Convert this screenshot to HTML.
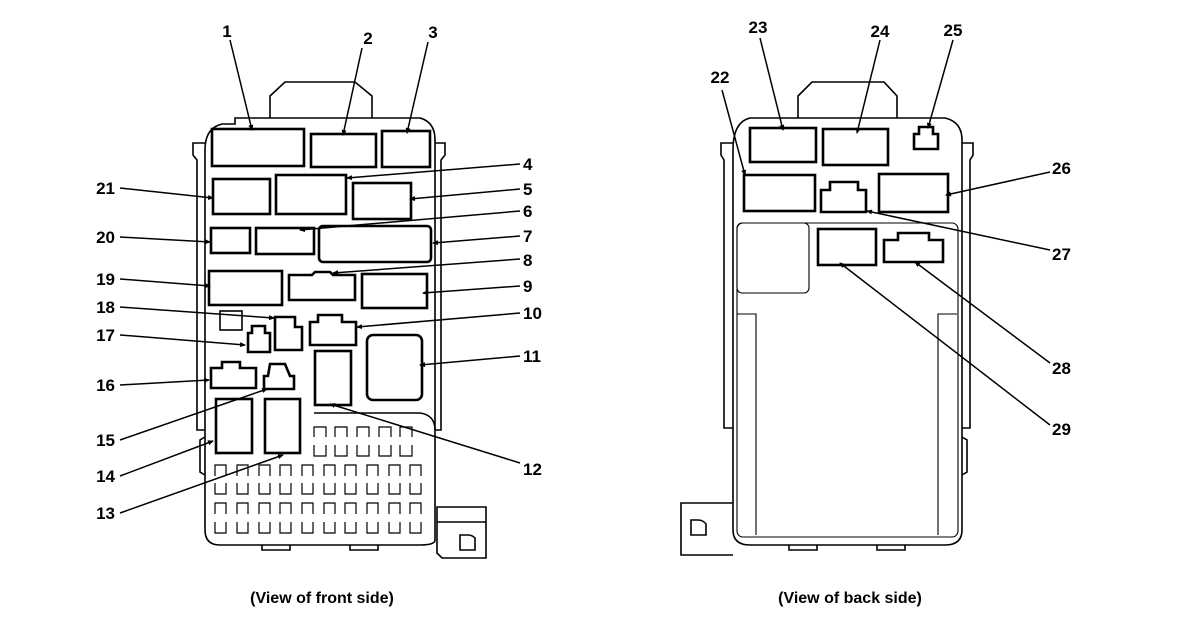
<!DOCTYPE html>
<html><head><meta charset="utf-8"><style>
html,body{margin:0;padding:0;background:#fff;}
svg{display:block;}
text{font-family:"Liberation Sans",Arial,sans-serif;font-weight:bold;font-size:17px;fill:#000;}
.cap{font-size:16px;}
</style></head><body>
<svg width="1184" height="630" viewBox="0 0 1184 630" xmlns="http://www.w3.org/2000/svg">
<defs><marker id="a" markerWidth="6" markerHeight="6" refX="5" refY="3" orient="auto" markerUnits="userSpaceOnUse"><path d="M0,0.5 L6,3 L0,5.5 Z" fill="#000"/></marker></defs>
<g fill="none" stroke="#000">
<!-- FRONT BOX -->
<g stroke-width="1.6">
<path d="M270,118 L270,96 L285,82 L355,82 L372,96 L372,118"/>
<path d="M205,150 Q205,128 222,124 L235,124 L235,118 L420,118 Q435,122 435,140 L435,540 Q435,545 420,545 L220,545 Q205,545 205,530 Z"/>
<path d="M205,143 L193,143 L193,155 L197,160 L197,430 L205,430"/>
<path d="M435,143 L445,143 L445,155 L441,160 L441,430 L435,430"/>
<path d="M205,437 L200,440 L200,472 L205,475"/>
<path d="M262,545 L262,550 L290,550 L290,545 M350,545 L350,550 L378,550 L378,545"/>
<path d="M437,507 L486,507 L486,558 L442,558 L437,553 Z M437,522 L486,522"/>
<path d="M460,535 L460,550 L475,550 L475,538 Q472,535 468,535 Z"/>
<path d="M314,413 L420,413 Q435,415 435,430"/>
<rect x="220" y="311" width="22" height="19"/>
</g>
<g stroke-width="1.2">
<path d="M314,437 L314,427 L326,427 L326,437 M335,437 L335,427 L347,427 L347,437 M357,437 L357,427 L369,427 L369,437 M379,437 L379,427 L391,427 L391,437 M400,437 L400,427 L412,427 L412,437"/>
<path d="M314,445 L314,456 L326,456 L326,445 M335,445 L335,456 L347,456 L347,445 M357,445 L357,456 L369,456 L369,445 M379,445 L379,456 L391,456 L391,445 M400,445 L400,456 L412,456 L412,445"/>
</g>
<g stroke-width="1.2">
<path d="M215,476 v-11 h11 v11 M237,476 v-11 h11 v11 M259,476 v-11 h11 v11 M280,476 v-11 h11 v11 M302,476 v-11 h11 v11 M324,476 v-11 h11 v11 M345,476 v-11 h11 v11 M367,476 v-11 h11 v11 M389,476 v-11 h11 v11 M410,476 v-11 h11 v11"/>
<path d="M215,483 v11 h11 v-11 M237,483 v11 h11 v-11 M259,483 v11 h11 v-11 M280,483 v11 h11 v-11 M302,483 v11 h11 v-11 M324,483 v11 h11 v-11 M345,483 v11 h11 v-11 M367,483 v11 h11 v-11 M389,483 v11 h11 v-11 M410,483 v11 h11 v-11"/>
<path d="M215,514 v-11 h11 v11 M237,514 v-11 h11 v11 M259,514 v-11 h11 v11 M280,514 v-11 h11 v11 M302,514 v-11 h11 v11 M324,514 v-11 h11 v11 M345,514 v-11 h11 v11 M367,514 v-11 h11 v11 M389,514 v-11 h11 v11 M410,514 v-11 h11 v11"/>
<path d="M215,522 v11 h11 v-11 M237,522 v11 h11 v-11 M259,522 v11 h11 v-11 M280,522 v11 h11 v-11 M302,522 v11 h11 v-11 M324,522 v11 h11 v-11 M345,522 v11 h11 v-11 M367,522 v11 h11 v-11 M389,522 v11 h11 v-11 M410,522 v11 h11 v-11"/>
</g>
<g stroke-width="2.6">
<rect x="212" y="129" width="92" height="37"/>
<rect x="311" y="134" width="65" height="33"/>
<rect x="382" y="131" width="48" height="36"/>
<rect x="213" y="179" width="57" height="35"/>
<rect x="276" y="175" width="70" height="39"/>
<rect x="353" y="183" width="58" height="36"/>
<rect x="211" y="228" width="39" height="25"/>
<rect x="256" y="228" width="58" height="26"/>
<rect x="319" y="226" width="112" height="36" rx="4"/>
<rect x="209" y="271" width="73" height="34"/>
<path d="M289,275 L312,275 L315,272 L330,272 L333,275 L355,275 L355,300 L289,300 Z"/>
<rect x="362" y="274" width="65" height="34"/>
<path d="M275,317 L295,317 L295,327 L302,327 L302,350 L275,350 Z"/>
<path d="M248,352 L248,333 L252,333 L252,326 L265,326 L265,333 L270,333 L270,352 Z"/>
<path d="M310,345 L310,322 L318,322 L318,315 L342,315 L342,322 L356,322 L356,345 Z"/>
<rect x="367" y="335" width="55" height="65" rx="6"/>
<rect x="315" y="351" width="36" height="54"/>
<path d="M211,388 L211,368 L222,368 L222,362 L240,362 L240,368 L256,368 L256,388 Z"/>
<path d="M264,389 L264,376 L268,376 L270,364 L285,364 L290,376 L294,376 L294,389 Z"/>
<rect x="216" y="399" width="36" height="54"/>
<rect x="265" y="399" width="35" height="54"/>
</g>
<g stroke-width="1.5" marker-end="url(#a)">
<path d="M230,40 L252,130"/>
<path d="M362,48 L343,135"/>
<path d="M428,42 L407,133"/>
<path d="M520,164 L347,178"/>
<path d="M520,189 L410,199"/>
<path d="M520,211 L300,230"/>
<path d="M520,236 L433,243"/>
<path d="M520,259 L333,273"/>
<path d="M520,286 L423,293"/>
<path d="M520,313 L357,327"/>
<path d="M520,356 L420,365"/>
<path d="M520,463 L330,404"/>
<path d="M120,188 L213,198"/>
<path d="M120,237 L210,242"/>
<path d="M120,279 L210,286"/>
<path d="M120,307 L274,318"/>
<path d="M120,335 L245,345"/>
<path d="M120,385 L209,380"/>
<path d="M120,440 L267,389"/>
<path d="M120,476 L213,441"/>
<path d="M120,513 L283,455"/>
</g>

<!-- BACK BOX -->
<g stroke-width="1.6">
<path d="M798,118 L798,96 L812,82 L884,82 L897,96 L897,118"/>
<path d="M733,150 Q733,122 750,118 L945,118 Q962,122 962,140 L962,530 Q962,545 945,545 L750,545 Q733,545 733,530 Z"/>
<path d="M733,143 L721,143 L721,155 L724,160 L724,428 L733,428"/>
<path d="M962,143 L973,143 L973,155 L970,160 L970,428 L962,428"/>
<path d="M962,437 L967,440 L967,472 L962,475"/>
<path d="M733,503 L681,503 L681,555 L733,555"/>
<path d="M691,520 L691,535 L706,535 L706,524 Q703,520 698,520 Z"/>
<path d="M789,545 L789,550 L817,550 L817,545 M877,545 L877,550 L905,550 L905,545"/>
</g>
<g stroke-width="1.1">
<rect x="737" y="223" width="221" height="314" rx="6"/>
<rect x="737" y="223" width="72" height="70" rx="5"/>
<path d="M737,314 L756,314 L756,535 M957,314 L938,314 L938,535"/>
</g>
<g stroke-width="2.6">
<rect x="750" y="128" width="66" height="34"/>
<rect x="823" y="129" width="65" height="36"/>
<path d="M914,149 L914,134 L919,134 L919,127 L933,127 L933,134 L938,134 L938,149 Z"/>
<rect x="744" y="175" width="71" height="36"/>
<path d="M821,212 L821,190 L830,190 L830,182 L858,182 L858,190 L866,190 L866,212 Z"/>
<rect x="879" y="174" width="69" height="38"/>
<rect x="818" y="229" width="58" height="36"/>
<path d="M884,262 L884,240 L898,240 L898,233 L929,233 L929,240 L943,240 L943,262 Z"/>
</g>
<g stroke-width="1.5" marker-end="url(#a)">
<path d="M760,38 L783,130"/>
<path d="M880,40 L857,133"/>
<path d="M953,40 L928,128"/>
<path d="M722,90 L745,175"/>
<path d="M1050,172 L946,195"/>
<path d="M1050,250 L867,211"/>
<path d="M1050,363 L915,262"/>
<path d="M1050,425 L840,263"/>
</g>
</g>

<text x="227" y="37" text-anchor="middle">1</text>
<text x="368" y="44" text-anchor="middle">2</text>
<text x="433" y="38" text-anchor="middle">3</text>
<text x="523" y="170">4</text>
<text x="523" y="195">5</text>
<text x="523" y="217">6</text>
<text x="523" y="242">7</text>
<text x="523" y="266">8</text>
<text x="523" y="292">9</text>
<text x="523" y="319">10</text>
<text x="523" y="362">11</text>
<text x="523" y="475">12</text>
<text x="115" y="194" text-anchor="end">21</text>
<text x="115" y="243" text-anchor="end">20</text>
<text x="115" y="285" text-anchor="end">19</text>
<text x="115" y="313" text-anchor="end">18</text>
<text x="115" y="341" text-anchor="end">17</text>
<text x="115" y="391" text-anchor="end">16</text>
<text x="115" y="446" text-anchor="end">15</text>
<text x="115" y="482" text-anchor="end">14</text>
<text x="115" y="519" text-anchor="end">13</text>
<text x="720" y="83" text-anchor="middle">22</text>
<text x="758" y="33" text-anchor="middle">23</text>
<text x="880" y="37" text-anchor="middle">24</text>
<text x="953" y="36" text-anchor="middle">25</text>
<text x="1052" y="174">26</text>
<text x="1052" y="260">27</text>
<text x="1052" y="374">28</text>
<text x="1052" y="435">29</text>
<text class="cap" x="322" y="603" text-anchor="middle">(View of front side)</text>
<text class="cap" x="850" y="603" text-anchor="middle">(View of back side)</text>
</svg>
</body></html>
